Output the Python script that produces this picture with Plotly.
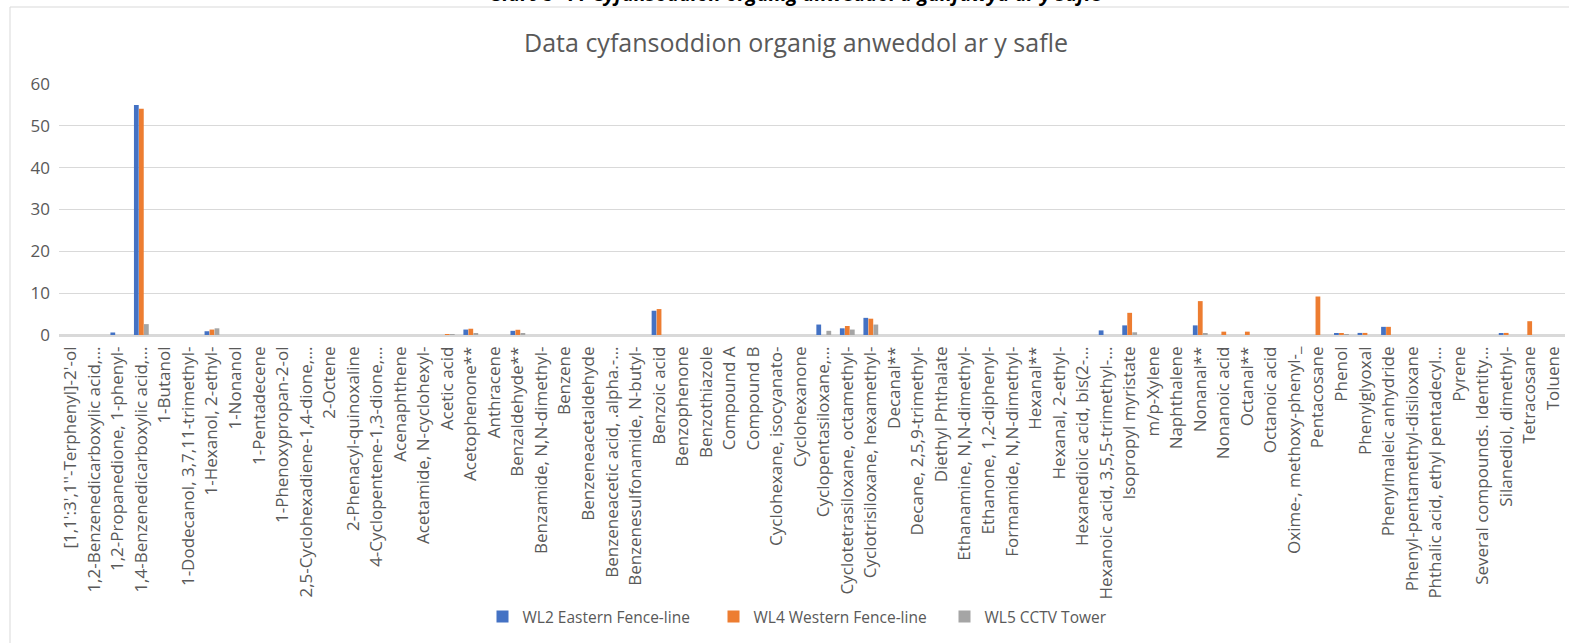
import plotly.graph_objects as go

categories = [
    "[1,1':3',1''-Terphenyl]-2'-ol",
    "1,2-Benzenedicarboxylic acid,…",
    "1,2-Propanedione, 1-phenyl-",
    "1,4-Benzenedicarboxylic acid,…",
    "1-Butanol",
    "1-Dodecanol, 3,7,11-trimethyl-",
    "1-Hexanol, 2-ethyl-",
    "1-Nonanol",
    "1-Pentadecene",
    "1-Phenoxypropan-2-ol",
    "2,5-Cyclohexadiene-1,4-dione,…",
    "2-Octene",
    "2-Phenacyl-quinoxaline",
    "4-Cyclopentene-1,3-dione,…",
    "Acenaphthene",
    "Acetamide, N-cyclohexyl-",
    "Acetic acid",
    "Acetophenone**",
    "Anthracene",
    "Benzaldehyde**",
    "Benzamide, N,N-dimethyl-",
    "Benzene",
    "Benzeneacetaldehyde",
    "Benzeneacetic acid, .alpha.-…",
    "Benzenesulfonamide, N-butyl-",
    "Benzoic acid",
    "Benzophenone",
    "Benzothiazole",
    "Compound A",
    "Compound B",
    "Cyclohexane, isocyanato-",
    "Cyclohexanone",
    "Cyclopentasiloxane,…",
    "Cyclotetrasiloxane, octamethyl-",
    "Cyclotrisiloxane, hexamethyl-",
    "Decanal**",
    "Decane, 2,5,9-trimethyl-",
    "Diethyl Phthalate",
    "Ethanamine, N,N-dimethyl-",
    "Ethanone, 1,2-diphenyl-",
    "Formamide, N,N-dimethyl-",
    "Hexanal**",
    "Hexanal, 2-ethyl-",
    "Hexanedioic acid, bis(2-…",
    "Hexanoic acid, 3,5,5-trimethyl-…",
    "Isopropyl myristate",
    "m/p-Xylene",
    "Naphthalene",
    "Nonanal**",
    "Nonanoic acid",
    "Octanal**",
    "Octanoic acid",
    "Oxime-, methoxy-phenyl-_",
    "Pentacosane",
    "Phenol",
    "Phenylglyoxal",
    "Phenylmaleic anhydride",
    "Phenyl-pentamethyl-disiloxane",
    "Phthalic acid, ethyl pentadecyl…",
    "Pyrene",
    "Several compounds. Identity…",
    "Silanediol, dimethyl-",
    "Tetracosane",
    "Toluene",
]

wl2 = [0, 0, 0.6, 55.0, 0, 0, 0.9, 0, 0, 0, 0, 0, 0, 0, 0, 0,
       0, 1.3, 0, 1.0, 0, 0, 0, 0, 0, 5.8, 0, 0, 0, 0, 0, 0,
       2.5, 1.6, 4.1, 0, 0, 0, 0, 0, 0, 0, 0, 0, 1.1, 2.3, 0, 0,
       2.3, 0, 0, 0, 0, 0, 0.4, 0.5, 1.95, 0, 0, 0, 0, 0.25, 0, 0]
wl4 = [0, 0, 0, 54.1, 0, 0, 1.3, 0, 0, 0, 0, 0, 0, 0, 0, 0,
       0.2, 1.5, 0, 1.25, 0, 0, 0, 0, 0, 6.2, 0, 0, 0, 0, 0, 0,
       0, 2.15, 3.9, 0, 0, 0, 0, 0, 0, 0, 0, 0, 0, 5.3, 0, 0,
       8.1, 0.8, 0.8, 0, 0, 9.2, 0.3, 0.5, 1.95, 0, 0, 0, 0, 0.5, 3.3, 0]
wl5 = [0, 0, 0, 2.6, 0, 0, 1.6, 0, 0, 0, 0, 0, 0, 0, 0, 0,
       0.1, 0.4, 0, 0.3, 0, 0, 0, 0, 0, 0, 0, 0, 0, 0, 0, 0,
       1.0, 1.3, 2.5, 0, 0, 0, 0, 0, 0, 0, 0, 0, 0, 0.65, 0, 0,
       0.25, 0, 0, 0, 0, 0, 0.15, 0, 0, 0, 0, 0, 0, 0, 0, 0]

series_names = ["WL2 Eastern Fence-line", "WL4 Western Fence-line", "WL5 CCTV Tower"]
series_values = [wl2, wl4, wl5]
colors = ["#4472C4", "#ED7D31", "#A5A5A5"]

FONT = "Open Sans"
TXT = "#595959"

fig = go.Figure()
for name, vals, col in zip(series_names, series_values, colors):
    fig.add_trace(go.Bar(x=categories, y=vals, name=name, marker_color=col,
                         marker_line_width=0))

W, H = 1569, 643
L, R, T, B = 59, 4, 84, 308
pw = W - L - R
ph = H - T - B

def px(x):
    return (x - L) / pw

def py(y):
    return (H - B - y) / ph

fig.update_layout(
    width=W, height=H,
    margin=dict(l=L, r=R, t=T, b=B, autoexpand=False),
    paper_bgcolor="white", plot_bgcolor="white",
    barmode="group", bargap=0.36, bargroupgap=0.05,
    font=dict(family=FONT, color=TXT, size=15),
    title=dict(text="Data cyfansoddion organig anweddol ar y safle",
               x=px(796), xref="paper", xanchor="center",
               y=1 - 43 / H, yanchor="middle",
               font=dict(family=FONT, size=25, color=TXT)),
    showlegend=True,
    legend=dict(orientation="h", x=px(829), xanchor="center",
                y=py(617), yanchor="middle",
                font=dict(family=FONT, size=15.5, color=TXT),
                traceorder="normal", itemsizing="constant",
                entrywidth=186),
    xaxis=dict(tickangle=-90, tickfont=dict(family=FONT, size=17, color=TXT),
               showline=True, linecolor="#D9D9D9", linewidth=1.5,
               ticks="", showgrid=False, automargin=False,
               ticklabelstandoff=3),
    yaxis=dict(range=[0, 60], dtick=10, showgrid=True, gridcolor="#D9D9D9",
               gridwidth=1, zeroline=True, zerolinecolor="#D9D9D9",
               zerolinewidth=1.5, tickfont=dict(family=FONT, size=17, color=TXT),
               ticks="", showline=False, automargin=False,
               ticklabelstandoff=8),
    shapes=[dict(type="rect", xref="paper", yref="paper",
                 x0=px(10), x1=px(1575), y0=py(650), y1=py(7),
                 line=dict(color="#D9D9D9", width=1), fillcolor="rgba(0,0,0,0)",
                 layer="below")],
    annotations=[dict(text="<b><i>Siart 8- 11 Cyfansoddion organig anweddol a ganfuwyd ar y safle</i></b>",
                      xref="paper", yref="paper", x=px(797), y=py(9),
                      xanchor="center", yanchor="bottom", showarrow=False,
                      font=dict(family=FONT, size=20, color="#000000"))],
)

fig.write_html("out.html", config={"displayModeBar": False},
               post_script="document.body.style.margin='0px';")
